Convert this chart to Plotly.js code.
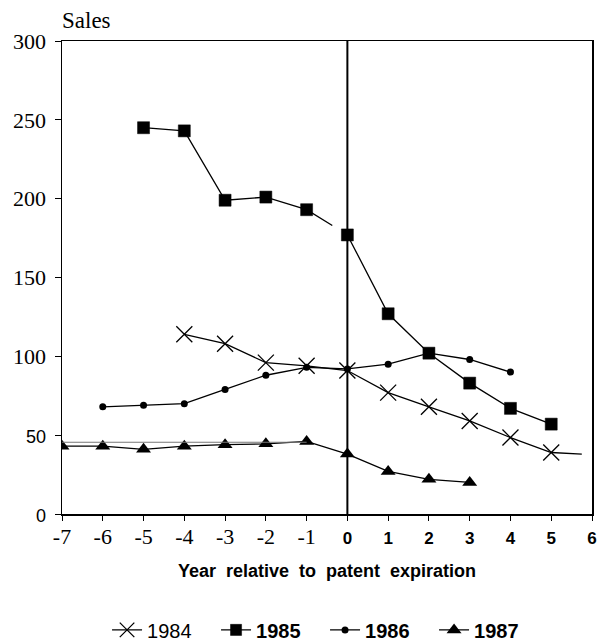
<!DOCTYPE html>
<html>
<head>
<meta charset="utf-8">
<script src="https://cdn.plot.ly/plotly-3.0.1.min.js"></script>
<style>html,body{margin:0;padding:0;background:#fff;}#chart{width:602px;height:642px;}</style>
</head>
<body>
<div id="chart"></div>
<script>
// ---- data ----
const xTickVals = [-7, -6, -5, -4, -3, -2, -1, 0, 1, 2, 3, 4, 5, 6];
const yTickVals = [0, 50, 100, 150, 200, 250, 300];

const x1984 = [-4, -3, -2, -1, 0, 1, 2, 3, 4, 5, 5.75];
const y1984 = [114, 108, 96, 94, 91, 77, 68, 59, 48.5, 39, 38];

const x1985 = [-5, -4, -3, -2, -1, -0.37, -0.2, 0, 1, 2, 3, 4, 5];
const y1985 = [245, 243, 199, 201, 193, 183, null, 177, 127, 102, 83, 67, 57];

const x1986 = [-6, -5, -4, -3, -2, -1, 0, 1, 2, 3, 4];
const y1986 = [68, 69, 70, 79, 88, 93, 92, 95, 102, 98, 90];

const x1987 = [-7, -6, -5, -4, -3, -2, -1, 0, 1, 2, 3];
const y1987 = [43, 43, 41, 43, 44, 44.5, 46, 38, 27, 22, 20];

const xGuide = [-7, -1];
const yGuide = [45.5, 45.5];

const lineOnlyX = [5.75, -0.37];   // points where a line ends without a marker

// ---- styling ----
const SERIF = 'Liberation Serif';
const SANS = 'Liberation Sans';
function sizes(xs, s) { return xs.map(v => lineOnlyX.includes(v) ? 0 : s); }

const xTickText = xTickVals.map(v => v < 0
  ? String(v)
  : '<span style="font-family:Liberation Sans;font-weight:bold;font-size:17px">' + v + '</span>');
const yTickText = yTickVals.map(v => v <= 50
  ? '<span style="font-family:Liberation Sans;font-size:18px">' + v + '</span>'
  : String(v));

const lineStyle = {color: '#000', width: 1.3};

const traces = [
  {x: x1984, y: y1984, name: '1984', mode: 'lines+markers', line: lineStyle,
   marker: {symbol: 'x-thin-open', size: sizes(x1984, 16), color: '#000', opacity: 1, line: {color: '#000', width: 1.3}}},
  {x: x1985, y: y1985, name: '<b>1985</b>', mode: 'lines+markers', line: lineStyle, connectgaps: false,
   marker: {symbol: 'square', size: sizes(x1985, 12), color: '#000', opacity: 1, line: {color: '#000', width: 0.5}}},
  {x: x1986, y: y1986, name: '<b>1986</b>', mode: 'lines+markers', line: lineStyle,
   marker: {symbol: 'circle', size: 7, color: '#000', opacity: 1}},
  {x: x1987, y: y1987, name: '<b>1987</b>', mode: 'lines+markers', line: lineStyle,
   marker: {symbol: 'triangle-up', size: 13, color: '#000', opacity: 1}},
  {x: xGuide, y: yGuide, mode: 'lines', showlegend: false, hoverinfo: 'skip',
   line: {color: '#777', width: 1}}
];

const layout = {
  width: 602, height: 642,
  margin: {l: 62, r: 10, t: 41, b: 128, autoexpand: false},
  paper_bgcolor: '#fff', plot_bgcolor: '#fff',
  font: {family: SERIF, color: '#000'},
  title: {text: 'Sales', font: {family: SERIF, size: 23, color: '#000'},
          xref: 'container', yref: 'container', x: 62 / 602, xanchor: 'left', y: 1 - 20 / 642, yanchor: 'middle'},
  xaxis: {
    range: [-7, 6], tickvals: xTickVals, ticktext: xTickText,
    tickfont: {family: SERIF, size: 22, color: '#000'},
    showgrid: false, zeroline: false, showline: true, linecolor: '#000', linewidth: 1.5, mirror: true,
    ticks: 'outside', ticklen: 5, tickcolor: '#000', ticklabelstandoff: -3,
    title: {text: '<b>Year  relative  to  patent  expiration</b>', font: {family: SANS, size: 18, color: '#000'}, standoff: 16}
  },
  yaxis: {
    range: [0, 300], tickvals: yTickVals, ticktext: yTickText,
    tickfont: {family: SERIF, size: 22, color: '#000'},
    showgrid: false, zeroline: false, showline: true, linecolor: '#000', linewidth: 1.5, mirror: true,
    ticks: 'outside', ticklen: 6, tickcolor: '#000', ticklabelstandoff: 4
  },
  shapes: [
    {type: 'line', xref: 'x', yref: 'paper', x0: 0, x1: 0, y0: 0, y1: 1, line: {color: '#000', width: 2}}
  ],
  showlegend: true,
  legend: {orientation: 'h', x: 0.085, xanchor: 'left', y: -0.245, yanchor: 'middle',
           font: {family: SANS, size: 20, color: '#000'}, bgcolor: 'rgba(0,0,0,0)',
           entrywidth: 64, entrywidthmode: 'pixels', itemwidth: 30, tracegroupgap: 0}
};

Plotly.newPlot('chart', traces, layout, {displayModeBar: false, staticPlot: true});
</script>
</body>
</html>
